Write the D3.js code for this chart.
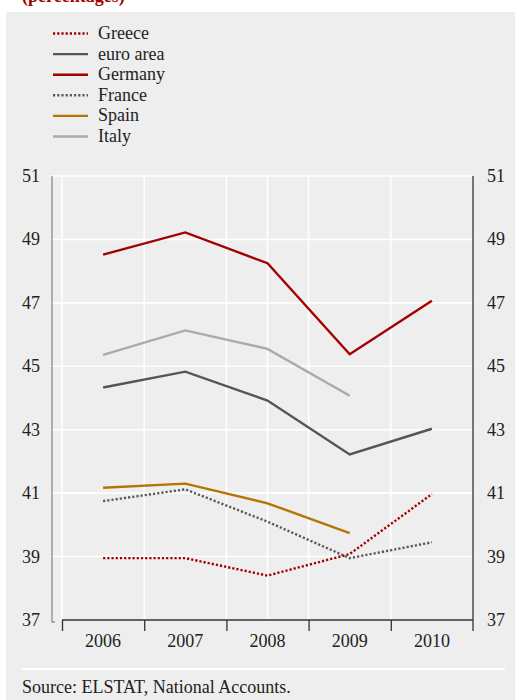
<!DOCTYPE html>
<html>
<head>
<meta charset="utf-8">
<script src="https://cdn.jsdelivr.net/npm/d3@7"></script>
<style>
  body { margin: 0; background: #fff; }
  svg text { font-family: "Liberation Serif", "DejaVu Serif", serif; }
</style>
</head>
<body>
<svg width="515" height="700"></svg>
<script>
// data (percent)
const years = ["2006", "2007", "2008", "2009", "2010"];
const yTicks = [37, 39, 41, 43, 45, 47, 49, 51];

const greece = [38.95, 38.95, 38.4, 39.08, 40.97];
const euroArea = [44.33, 44.83, 43.92, 42.22, 43.03];
const germany = [48.52, 49.22, 48.25, 45.38, 47.07];
const france = [40.75, 41.12, 40.1, 38.95, 39.45];
const spain = [41.17, 41.3, 40.68, 39.74, null];
const italy = [45.36, 46.13, 45.55, 44.07, null];

const series = [
  { name: "Greece", values: greece, color: "#a00000", dash: "2.2,2" },
  { name: "euro area", values: euroArea, color: "#555555", dash: null },
  { name: "Germany", values: germany, color: "#a50000", dash: null },
  { name: "France", values: france, color: "#5a5a5a", dash: "2.2,2" },
  { name: "Spain", values: spain, color: "#b57500", dash: null },
  { name: "Italy", values: italy, color: "#aaaaaa", dash: null }
];

const fs = 18;
const svg = d3.select("svg");

// panel background
svg.append("rect")
  .attr("x", 6).attr("y", 12)
  .attr("width", 509).attr("height", 688)
  .attr("fill", "#eeeeee");

// title, cut off at the top edge like the source image
svg.append("text")
  .attr("x", 22).attr("y", 2)
  .attr("font-size", fs)
  .attr("font-weight", "bold")
  .attr("fill", "#a00000")
  .text("(percentages)");

const xScale = d3.scaleBand().domain(years).range([62, 473]);
const yScale = d3.scaleLinear().domain([37, 51]).range([620, 176]);

// horizontal grid
svg.append("g")
  .selectAll("line")
  .data(yTicks.slice(1))
  .enter()
  .append("line")
  .attr("x1", 50).attr("x2", 473)
  .attr("y1", d => yScale(d)).attr("y2", d => yScale(d))
  .attr("stroke", "#fff")
  .attr("stroke-width", 1.6);

// vertical grid at band edges (plus the odd one at 2008)
const edges = years.map(d => xScale(d));
svg.append("g")
  .selectAll("line")
  .data(edges.concat([xScale("2008") + xScale.bandwidth() / 2]))
  .enter()
  .append("line")
  .attr("x1", d => d).attr("x2", d => d)
  .attr("y1", yScale(51)).attr("y2", yScale(37))
  .attr("stroke", "#fff")
  .attr("stroke-width", 1.6);

// left axis line
svg.append("path")
  .attr("d", `M52,${yScale(51)}V${yScale(37) + 2}h3`)
  .attr("fill", "none")
  .attr("stroke", "#999")
  .attr("stroke-width", 1.5);

// right axis line
svg.append("line")
  .attr("x1", 473).attr("x2", 473)
  .attr("y1", yScale(51)).attr("y2", yScale(37) + 11)
  .attr("stroke", "#333")
  .attr("stroke-width", 1.3);

// x axis baseline with bracket ticks
const xAxis = svg.append("g");
xAxis.append("line")
  .attr("x1", 62).attr("x2", 473)
  .attr("y1", yScale(37)).attr("y2", yScale(37))
  .attr("stroke", "#333").attr("stroke-width", 1.3);
xAxis.selectAll(".tk")
  .data(edges)
  .enter()
  .append("line")
  .attr("x1", d => d + 0.5).attr("x2", d => d + 0.5)
  .attr("y1", yScale(37)).attr("y2", yScale(37) + 11)
  .attr("stroke", "#333").attr("stroke-width", 1.3);
xAxis.selectAll("text")
  .data(years)
  .enter()
  .append("text")
  .attr("x", d => xScale(d) + xScale.bandwidth() / 2)
  .attr("y", 647)
  .attr("text-anchor", "middle")
  .attr("font-size", fs)
  .attr("fill", "#222")
  .text(d => d);

// y labels both sides
svg.append("g").selectAll("text")
  .data(yTicks)
  .enter()
  .append("text")
  .attr("x", 40)
  .attr("y", d => yScale(d) + 6)
  .attr("text-anchor", "end")
  .attr("font-size", fs)
  .attr("fill", "#222")
  .text(d => d);

svg.append("g").selectAll("text")
  .data(yTicks)
  .enter()
  .append("text")
  .attr("x", 487)
  .attr("y", d => yScale(d) + 6)
  .attr("font-size", fs)
  .attr("fill", "#222")
  .text(d => d);

// lines
const line = d3.line()
  .defined(d => d.v != null)
  .x(d => xScale(d.year) + xScale.bandwidth() / 2)
  .y(d => yScale(d.v));

series.forEach(s => {
  svg.append("path")
    .datum(years.map((y, i) => ({ year: y, v: s.values[i] })))
    .attr("d", line)
    .attr("fill", "none")
    .attr("stroke", s.color)
    .attr("stroke-width", 2.4)
    .attr("stroke-dasharray", s.dash);
});

// legend
const legend = svg.append("g");
series.forEach((s, i) => {
  const y = 33.5 + i * 20.6;
  legend.append("line")
    .attr("x1", 53).attr("x2", 88)
    .attr("y1", y).attr("y2", y)
    .attr("stroke", s.color)
    .attr("stroke-width", 2.4)
    .attr("stroke-dasharray", s.dash);
  legend.append("text")
    .attr("x", 98).attr("y", y + 5.5)
    .attr("font-size", fs)
    .attr("fill", "#222")
    .text(s.name);
});

// source
svg.append("line")
  .attr("x1", 22).attr("x2", 505)
  .attr("y1", 669).attr("y2", 669)
  .attr("stroke", "#fff").attr("stroke-width", 2);

svg.append("text")
  .attr("x", 22).attr("y", 693)
  .attr("font-size", fs)
  .attr("fill", "#222")
  .text("Source: ELSTAT, National Accounts.");
</script>
</body>
</html>
